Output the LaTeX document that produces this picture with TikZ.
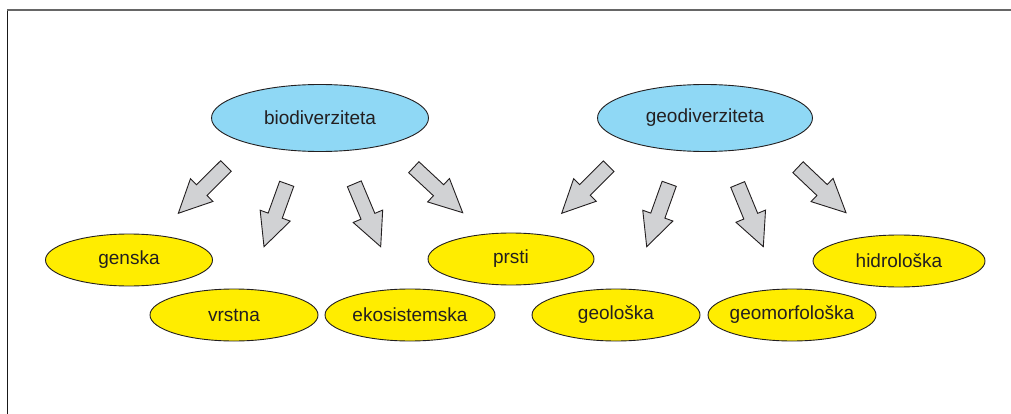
\documentclass[tikz,border=0pt]{standalone}
\usepackage{fontspec}
\setmainfont{Liberation Sans}
\usetikzlibrary{shapes.geometric,calc}
\definecolor{skyfill}{HTML}{8FD8F5}
\definecolor{yolk}{HTML}{FFED00}
\definecolor{arrowfill}{HTML}{D1D2D4}
\definecolor{inkline}{HTML}{231F20}
\tikzset{
  blob/.style={ellipse, draw=inkline, line width=0.9pt, inner xsep=-4pt, inner ysep=0pt,
    text=inkline, font=\fontsize{19}{22}\selectfont},
  bioblob/.style={blob, fill=skyfill, minimum width=217pt, minimum height=67pt},
  kind/.style={blob, fill=yolk, minimum width=168pt, minimum height=52pt},
  fatarrow/.style={draw=inkline, fill=arrowfill, line width=0.9pt, line join=miter,
    to path={($(\tikztostart)!7.5pt!90:(\tikztotarget)$)
      -- ($(\tikztotarget)!33pt!(\tikztostart)!7.5pt!-90:(\tikztostart)$)
      -- ($(\tikztotarget)!33pt!(\tikztostart)!16pt!-90:(\tikztostart)$)
      -- (\tikztotarget)
      -- ($(\tikztotarget)!33pt!(\tikztostart)!16pt!90:(\tikztostart)$)
      -- ($(\tikztotarget)!33pt!(\tikztostart)!7.5pt!90:(\tikztostart)$)
      -- ($(\tikztostart)!7.5pt!-90:(\tikztotarget)$)
      -- cycle}}
}
\begin{document}
\begin{tikzpicture}[x=1pt,y=-1pt]
      \useasboundingbox (0,0) rectangle (1011,414);
      \draw[black!90, line width=1pt] (7,10) -- (7,414);
      \draw[black!60, line width=1.3pt] (7,10) -- (1011,10);
      \draw
        (320,118) node[bioblob] (bio){biodiverziteta}
        (705,118) node[bioblob, minimum width=215pt] (geo){geodiverziteta}
        (129,260) node[kind, minimum width=167pt] (genska){genska}
        (234,315) node[kind] (vrstna){vrstna}
        (410,315) node[kind, minimum width=170pt] (ekosistemska){ekosistemska}
        (511,259) node[kind, minimum width=166pt] (prsti){prsti}
        (616,315) node[kind] (geoloska){geološka}
        (792,315) node[kind] (geomorfoloska){geomorfološka}
        (899,261) node[kind, minimum width=172pt] (hidroloska){hidrološka};
      \path
        (226,166) coordinate (b1) (178.3,213.3) coordinate (b1tip)
        (286.7,183.8) coordinate (b2) (264,246.7) coordinate (b2tip)
        (354.3,183.8) coordinate (b3) (380.7,246.7) coordinate (b3tip)
        (413.8,167.2) coordinate (b4) (462.7,212.7) coordinate (b4tip)
        (608.7,166.2) coordinate (g1) (561.7,213.3) coordinate (g1tip)
        (669.2,183.8) coordinate (g2) (646.7,246.7) coordinate (g2tip)
        (737.7,184.5) coordinate (g3) (763.3,246.7) coordinate (g3tip)
        (798,167.2) coordinate (g4) (846,212.7) coordinate (g4tip);
      \draw[fatarrow] (b1) to (b1tip);
      \draw[fatarrow] (b2) to (b2tip);
      \draw[fatarrow] (b3) to (b3tip);
      \draw[fatarrow] (b4) to (b4tip);
      \draw[fatarrow] (g1) to (g1tip);
      \draw[fatarrow] (g2) to (g2tip);
      \draw[fatarrow] (g3) to (g3tip);
      \draw[fatarrow] (g4) to (g4tip);
    \end{tikzpicture}
\end{document}
